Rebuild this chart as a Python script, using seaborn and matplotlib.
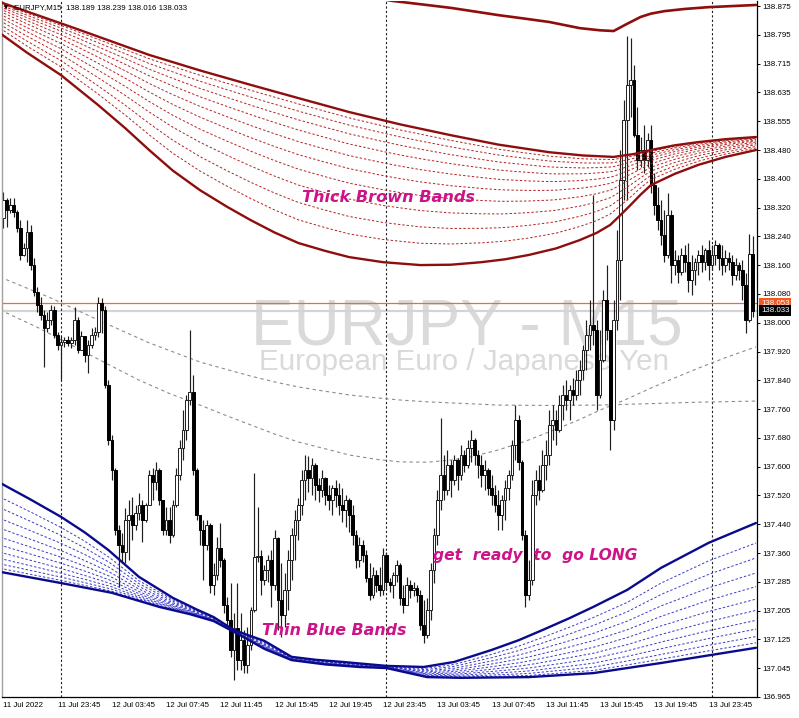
import numpy as np
import matplotlib
matplotlib.use("Agg")
import matplotlib.pyplot as plt
import matplotlib.transforms as mtransforms
import seaborn as sns

# ---------------- data ----------------
first_open = 138.289
close = [
    138.339, 138.311, 138.325, 138.306, 138.261, 138.187, 138.206, 138.250, 138.159, 138.085,
    138.049, 138.021, 137.985, 138.007, 138.035, 137.966, 137.938, 137.946, 137.952, 137.944,
    137.952, 138.007, 137.924, 137.963, 137.910, 137.938, 137.966, 137.974, 138.054, 138.035,
    137.828, 137.675, 137.593, 137.427, 137.385, 137.366, 137.454, 137.468, 137.441, 137.474,
    137.496, 137.454, 137.496, 137.579, 137.559, 137.593, 137.510, 137.427, 137.454, 137.413,
    137.496, 137.579, 137.653, 137.703, 137.786, 137.808, 137.593, 137.468, 137.427, 137.385,
    137.441, 137.275, 137.302, 137.377, 137.344, 137.219, 137.178, 137.095, 137.156, 137.067,
    137.123, 137.054, 137.109, 137.206, 137.352, 137.355, 137.289, 137.316, 137.344, 137.275,
    137.405, 137.233, 137.192, 137.261, 137.344, 137.413, 137.454, 137.496, 137.565, 137.593,
    137.570, 137.606, 137.551, 137.537, 137.570, 137.523, 137.510, 137.543, 137.523, 137.496,
    137.482, 137.510, 137.468, 137.413, 137.344, 137.385, 137.358, 137.294, 137.247, 137.302,
    137.275, 137.261, 137.358, 137.283, 137.275, 137.302, 137.330, 137.239, 137.219, 137.275,
    137.261, 137.266, 137.247, 137.164, 137.137, 137.206, 137.316, 137.413, 137.510, 137.579,
    137.537, 137.606, 137.565, 137.620, 137.579, 137.634, 137.606, 137.653, 137.675, 137.634,
    137.606, 137.579, 137.593, 137.543, 137.523, 137.496, 137.468, 137.510, 137.543, 137.579,
    137.662, 137.731, 137.615, 137.413, 137.247, 137.289, 137.523, 137.565, 137.537, 137.606,
    137.634, 137.717, 137.731, 137.703, 137.772, 137.800, 137.786, 137.814, 137.800, 137.841,
    137.869, 137.924, 137.966, 137.993, 137.980, 137.800, 137.897, 138.062, 137.980, 137.731,
    138.007, 138.173, 138.394, 138.560, 138.657, 138.670, 138.518, 138.450, 138.477, 138.450,
    138.505, 138.380, 138.325, 138.284, 138.242, 138.187, 138.297, 138.159, 138.173, 138.140,
    138.187, 138.167, 138.118, 138.145, 138.167, 138.187, 138.167, 138.201, 138.159, 138.187,
    138.214, 138.179, 138.159, 138.179, 138.167, 138.132, 138.159, 138.145, 138.104, 138.007,
    138.189, 138.033]
high = [
    138.361, 138.344, 138.344, 138.344, 138.311, 138.284, 138.220, 138.284, 138.270, 138.179,
    138.098, 138.071, 138.035, 138.029, 138.049, 138.046, 137.974, 137.963, 137.960, 137.963,
    137.960, 138.043, 138.015, 137.977, 137.957, 137.952, 137.985, 137.988, 138.071, 138.068,
    138.046, 137.841, 137.689, 137.598, 137.441, 137.418, 137.488, 137.510, 137.518, 137.496,
    137.529, 137.510, 137.501, 137.593, 137.598, 137.615, 137.598, 137.510, 137.490, 137.490,
    137.510, 137.598, 137.675, 137.758, 137.800, 137.980, 137.855, 137.598, 137.468, 137.454,
    137.454, 137.446, 137.336, 137.407, 137.446, 137.349, 137.242, 137.280, 137.197, 137.280,
    137.197, 137.150, 137.159, 137.214, 137.584, 137.490, 137.371, 137.330, 137.358, 137.371,
    137.427, 137.407, 137.336, 137.308, 137.371, 137.432, 137.482, 137.515, 137.593, 137.634,
    137.631, 137.626, 137.612, 137.570, 137.593, 137.573, 137.551, 137.551, 137.565, 137.557,
    137.543, 137.523, 137.515, 137.496, 137.427, 137.407, 137.399, 137.371, 137.336, 137.324,
    137.316, 137.324, 137.377, 137.366, 137.294, 137.311, 137.344, 137.336, 137.275, 137.297,
    137.289, 137.283, 137.275, 137.261, 137.233, 137.239, 137.336, 137.432, 137.537, 137.736,
    137.634, 137.648, 137.620, 137.634, 137.626, 137.662, 137.648, 137.675, 137.703, 137.681,
    137.648, 137.634, 137.620, 137.598, 137.579, 137.551, 137.537, 137.523, 137.565, 137.593,
    137.675, 137.772, 137.745, 137.620, 137.427, 137.344, 137.565, 137.593, 137.606, 137.648,
    137.675, 137.758, 137.772, 137.758, 137.800, 137.827, 137.841, 137.827, 137.847, 137.869,
    137.897, 137.938, 138.007, 138.062, 138.353, 138.007, 137.980, 138.090, 138.159, 137.980,
    138.062, 138.256, 138.477, 138.615, 138.792, 138.787, 138.712, 138.596, 138.513, 138.546,
    138.524, 138.546, 138.413, 138.375, 138.339, 138.311, 138.358, 138.311, 138.201, 138.187,
    138.206, 138.214, 138.220, 138.187, 138.179, 138.201, 138.214, 138.206, 138.228, 138.214,
    138.228, 138.220, 138.214, 138.201, 138.195, 138.187, 138.179, 138.167, 138.173, 138.137,
    138.244, 138.239]
low = [
    138.261, 138.264, 138.303, 138.292, 138.250, 138.173, 138.184, 138.167, 138.145, 138.074,
    138.029, 138.007, 137.877, 137.974, 137.993, 137.957, 137.924, 137.841, 137.933, 137.935,
    137.930, 137.938, 137.916, 137.941, 137.891, 137.861, 137.930, 137.952, 137.960, 137.971,
    137.819, 137.662, 137.565, 137.413, 137.269, 137.336, 137.336, 137.344, 137.399, 137.427,
    137.454, 137.394, 137.449, 137.496, 137.510, 137.537, 137.496, 137.413, 137.413, 137.391,
    137.407, 137.490, 137.565, 137.620, 137.675, 137.772, 137.579, 137.454, 137.385, 137.289,
    137.371, 137.253, 137.247, 137.289, 137.324, 137.197, 137.159, 137.076, 137.012, 137.040,
    137.040, 137.031, 137.031, 137.095, 137.200, 137.338, 137.247, 137.275, 137.283, 137.214,
    137.261, 137.150, 137.131, 137.159, 137.206, 137.289, 137.344, 137.399, 137.468, 137.510,
    137.532, 137.523, 137.510, 137.504, 137.518, 137.496, 137.482, 137.468, 137.490, 137.468,
    137.449, 137.435, 137.421, 137.385, 137.322, 137.324, 137.338, 137.283, 137.233, 137.239,
    137.255, 137.244, 137.247, 137.261, 137.255, 137.239, 137.283, 137.219, 137.197, 137.219,
    137.239, 137.244, 137.228, 137.150, 137.114, 137.128, 137.178, 137.280, 137.385, 137.482,
    137.510, 137.523, 137.518, 137.551, 137.537, 137.565, 137.587, 137.598, 137.615, 137.606,
    137.570, 137.546, 137.537, 137.523, 137.496, 137.476, 137.427, 137.427, 137.454, 137.510,
    137.565, 137.620, 137.593, 137.399, 137.214, 137.233, 137.275, 137.496, 137.510, 137.532,
    137.565, 137.606, 137.675, 137.662, 137.698, 137.731, 137.758, 137.731, 137.772, 137.786,
    137.800, 137.841, 137.869, 137.924, 137.938, 137.758, 137.792, 137.891, 137.952, 137.648,
    137.703, 137.980, 138.062, 138.339, 138.339, 138.568, 138.513, 138.422, 138.430, 138.413,
    138.430, 138.358, 138.297, 138.256, 138.214, 138.167, 138.179, 138.109, 138.132, 138.109,
    138.132, 138.140, 138.085, 138.076, 138.104, 138.132, 138.140, 138.145, 138.118, 138.145,
    138.159, 138.145, 138.132, 138.140, 138.145, 138.104, 138.118, 138.118, 138.062, 137.971,
    138.002, 138.016]

# indicator lines (bar index, price)
blue_fast_bar = [-1, 8, 17, 24, 31, 40, 50, 57, 62, 68, 77, 85, 92, 100, 113, 124, 133, 144, 152,
                 159, 167, 174, 184, 194, 208, 222]
blue_fast = [137.557, 137.511, 137.463, 137.420, 137.371, 137.297, 137.239, 137.207, 137.186, 137.150,
             137.120, 137.076, 137.068, 137.062, 137.051, 137.048, 137.062, 137.095, 137.122, 137.150,
             137.183, 137.214, 137.261, 137.322, 137.391, 137.446]
blue_slow_bar = [-1, 17, 32, 46, 55, 62, 70, 77, 85, 95, 105, 113, 125, 135, 155, 174, 194, 222]
blue_slow = [137.311, 137.280, 137.253, 137.214, 137.194, 137.175, 137.135, 137.098, 137.067, 137.055,
             137.048, 137.045, 137.020, 137.018, 137.020, 137.031, 137.059, 137.101]
brown_slow_bar = [-1, 10, 21, 32, 43, 58, 73, 88, 102, 117, 132, 146, 161, 171, 180, 186, 191, 198,
                  205, 213, 222]
brown_slow = [138.886, 138.850, 138.814, 138.777, 138.740, 138.697, 138.657, 138.618, 138.582, 138.548,
              138.518, 138.492, 138.471, 138.462, 138.458, 138.466, 138.477, 138.490, 138.499, 138.507,
              138.513]
brown_fast_bar = [-1, 7, 17, 28, 36, 43, 50, 58, 66, 73, 80, 87, 95, 102, 112, 123, 132, 141, 148,
                  155, 163, 170, 175, 179, 182, 185, 188, 191, 198, 205, 213, 222]
brown_fast = [138.800, 138.746, 138.684, 138.601, 138.537, 138.477, 138.420, 138.366, 138.320, 138.283,
              138.249, 138.220, 138.198, 138.181, 138.167, 138.159, 138.160, 138.167, 138.175,
              138.187, 138.205, 138.228, 138.248, 138.270, 138.297, 138.325, 138.354, 138.380,
              138.411, 138.436, 138.458, 138.477]
brown_top_bar = [108, 115, 124, 132, 139, 146, 154, 161, 170, 176, 180, 184, 188, 191, 195, 201, 208,
                 215, 222]
brown_top = [138.900, 138.889, 138.879, 138.870, 138.860, 138.850, 138.840, 138.831, 138.814, 138.808,
             138.806, 138.826, 138.845, 138.854, 138.861, 138.867, 138.872, 138.875, 138.878]
grey_a_bar = [-1, 10, 20, 30, 40, 49, 58, 66, 73, 80, 87, 95, 102, 110, 117, 125, 132, 139, 146, 154,
              161, 169, 176, 184, 191, 198, 205, 213, 222]
grey_a = [138.035, 137.987, 137.938, 137.889, 137.841, 137.804, 137.772, 137.742, 137.717, 137.692,
          137.670, 137.651, 137.634, 137.622, 137.615, 137.614, 137.620, 137.631, 137.648, 137.672,
          137.698, 137.728, 137.758, 137.789, 137.819, 137.847, 137.874, 137.903, 137.933]
grey_b_bar = [-1, 14, 28, 43, 58, 66, 73, 80, 87, 95, 102, 110, 117, 125, 132, 146, 161, 176, 191,
              205, 222]
grey_b = [138.126, 138.068, 138.007, 137.944, 137.891, 137.870, 137.852, 137.836, 137.822, 137.810,
          137.800, 137.792, 137.786, 137.781, 137.778, 137.772, 137.771, 137.772, 137.776, 137.780,
          137.783]
fan_fracs = [0.16, 0.28, 0.40, 0.51, 0.61, 0.70, 0.78, 0.85, 0.91, 0.96]

x_tick_bars = [0, 16, 32, 48, 64, 80, 96, 112, 128, 144, 160, 176, 192, 208]
x_tick_labels = ["11 Jul 2022", "11 Jul 23:45", "12 Jul 03:45", "12 Jul 07:45", "12 Jul 11:45",
                 "12 Jul 15:45", "12 Jul 19:45", "12 Jul 23:45", "13 Jul 03:45", "13 Jul 07:45",
                 "13 Jul 11:45", "13 Jul 15:45", "13 Jul 19:45", "13 Jul 23:45"]
y_tick_labels = ["136.965", "137.045", "137.125", "137.205", "137.285", "137.360", "137.440", "137.520",
                 "137.600", "137.680", "137.760", "137.840", "137.920", "138.000", "138.080", "138.160",
                 "138.240", "138.320", "138.400", "138.480", "138.555", "138.635", "138.715", "138.795",
                 "138.875"]
day_separators = [17, 113, 209]
bid_price = 138.053
ask_price = 138.033
header = "EURJPY,M15  138.189 138.239 138.016 138.033"

# ---------------- figure ----------------
sns.set_style("white")
plt.rcParams['font.family'] = ['Liberation Sans', 'DejaVu Sans']

W, H = 799, 718
fig = plt.figure(figsize=(W / 100, H / 100), dpi=100)
ax = fig.add_axes([2 / W, 21 / H, 755 / W, 696 / H])
ax.set_xlim(-0.41, 222.3)
ax.set_ylim(136.965, 138.889)

# watermark
ax.text(0.615, 1 - 344 / 696, "EURJPY - M15", transform=ax.transAxes, ha='center',
        va='baseline', fontsize=46, color='#DADADA', zorder=0)
ax.text(0.612, 1 - 369 / 696, "European Euro / Japanese Yen", transform=ax.transAxes, ha='center',
        va='baseline', fontsize=21.3, color='#DADADA', zorder=0)

# price lines
ax.axhline(ask_price, color='#D4D4D4', lw=1.6, zorder=0.5)
ax.axhline(bid_price, color='#F26A3A', lw=0.9, zorder=0.6)

# day separators
for b in day_separators:
    ax.axvline(b, color='#202020', lw=0.8, dashes=(2, 2), zorder=0.7)

# candles
o = np.array([first_open] + close[:-1])
c = np.array(close)
h = np.array(high)
l = np.array(low)
bars = np.arange(len(c))
h_draw = np.maximum(h, np.maximum(o, c))
l_draw = np.minimum(l, np.minimum(o, c))
ax.vlines(bars, l_draw, h_draw, color='#1e1e1e', lw=0.85, zorder=2)
up = c >= o
bottom = np.minimum(o, c)
height = np.maximum(np.abs(c - o), 0.0012)
ax.bar(bars[up], height[up], bottom=bottom[up], width=0.8, color='white', edgecolor='#1e1e1e',
       linewidth=0.7, zorder=2.1)
ax.bar(bars[~up], height[~up], bottom=bottom[~up], width=0.8, color='black', edgecolor='black',
       linewidth=0.7, zorder=2.1)


def draw_line(xs, ys, color, lw, dash=None, z=3):
    sns.lineplot(x=xs, y=ys, ax=ax, color=color, lw=lw, estimator=None, sort=False,
                 legend=False, zorder=z)
    line = ax.lines[-1]
    if dash is not None:
        line.set_dashes(dash)


def draw_fan(fx, fy, sx, sy, color_thick, color_thin):
    grid = np.union1d(fx, sx)
    fg = np.interp(grid, fx, fy)
    sg = np.interp(grid, sx, sy)
    for f in fan_fracs:
        draw_line(grid, fg + f * (sg - fg), color_thin, 0.7, dash=(2.5, 2), z=3)
    draw_line(fx, fy, color_thick, 1.7, z=3.5)
    draw_line(sx, sy, color_thick, 1.7, z=3.5)


# grey dashed MAs
draw_line(grey_a_bar, grey_a, '#8C8C8C', 0.8, dash=(3, 3), z=1.5)
draw_line(grey_b_bar, grey_b, '#8C8C8C', 0.8, dash=(3, 3), z=1.5)

# bands
draw_fan(brown_fast_bar, brown_fast, brown_slow_bar, brown_slow, '#8E0E0E', '#B52424')
draw_line(brown_top_bar, brown_top, '#8E0E0E', 1.9, z=3.5)
draw_fan(blue_fast_bar, blue_fast, blue_slow_bar, blue_slow, '#0A0A8C', '#3A3AC8')

ax.set_xlim(-0.41, 222.3)
ax.set_ylim(136.965, 138.889)

# annotations
anno_color = '#CC1488'
afont = dict(family='DejaVu Sans', weight='bold', style='oblique')
ax.text(300 / 755, 1 - 201 / 696, "Thick Brown Bands", transform=ax.transAxes, size=11.6,
        color=anno_color, ha='left', va='baseline', zorder=6, **afont)
ax.text(260 / 755, 1 - 634 / 696, "Thin Blue Bands", transform=ax.transAxes, size=11.4,
        color=anno_color, ha='left', va='baseline', zorder=6, **afont)
ax.text(431 / 755, 1 - 559 / 696, "get  ready  to  go LONG", transform=ax.transAxes, size=11.2,
        color=anno_color, ha='left', va='baseline', zorder=6, **afont)

# axes styling
ax.spines['top'].set_visible(False)
ax.spines['left'].set_color('#A0A0A0')
ax.spines['left'].set_linewidth(1.0)
ax.spines['right'].set_color('black')
ax.spines['right'].set_linewidth(0.9)
ax.spines['bottom'].set_color('black')
ax.spines['bottom'].set_linewidth(0.9)

yticks = [136.965 + k * (138.875 - 136.965) / 24 for k in range(25)]
ax.yaxis.tick_right()
ax.set_yticks(yticks)
ax.set_yticklabels(y_tick_labels)
ax.tick_params(axis='y', which='both', direction='out', length=2.2, width=0.7, pad=1.5,
               labelsize=5.7, colors='black', left=False, right=True)
ax.set_xticks(x_tick_bars)
ax.set_xticklabels(x_tick_labels, ha='left')
ax.tick_params(axis='x', direction='out', length=2.2, width=0.7, pad=1.5, labelsize=5.7, colors='black')
ax.set_xlabel('')
ax.set_ylabel('')
ax.grid(False)

# price tags on the right scale
blend = mtransforms.blended_transform_factory(ax.transAxes, ax.transData)
ax.text(1.0055, bid_price, "138.053", transform=blend, fontsize=5.7, color='white', ha='left',
        va='center', zorder=10, clip_on=False,
        bbox=dict(boxstyle='square,pad=0.22', fc='#F25A22', ec='none'))
ax.text(1.0055, ask_price, "138.033", transform=blend, fontsize=5.7, color='white', ha='left',
        va='center', zorder=11, clip_on=False,
        bbox=dict(boxstyle='square,pad=0.22', fc='black', ec='none'))

# header
fig.text(4 / W, 1 - 8 / H, "\u25BC", fontsize=4, color='black', va='center', ha='left',
         family='DejaVu Sans')
fig.text(14 / W, 1 - 8 / H, header, fontsize=5.7, color='black', va='center', ha='left')

fig.savefig("out.png", dpi=100)
